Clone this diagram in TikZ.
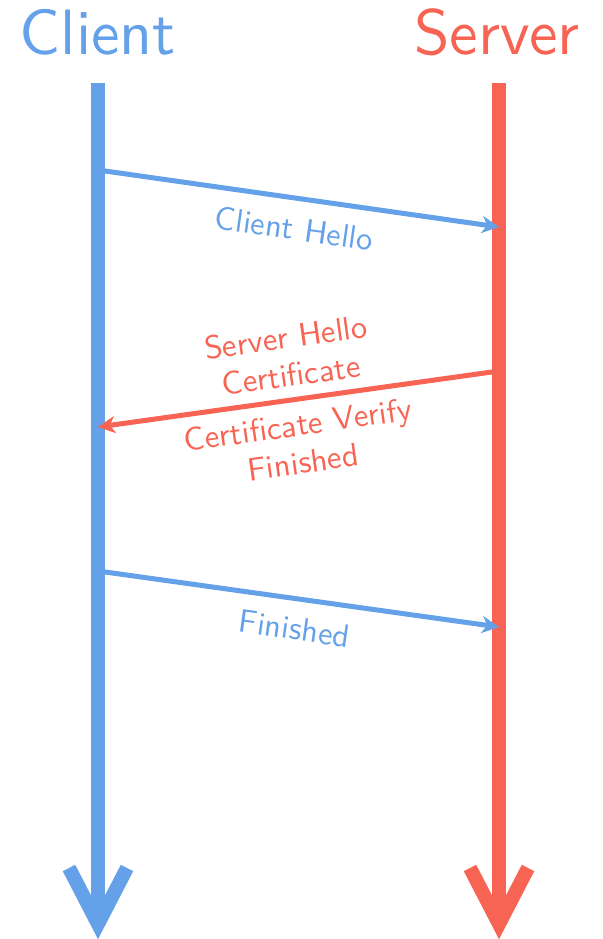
\documentclass[tikz,border=0pt]{standalone}
\usepackage{fontspec}
\usetikzlibrary{arrows.meta}
% the 10pt design of Latin Modern Sans, scaled freely
\newfontfamily\lmsten{lmsans10-regular.otf}
\definecolor{cblue}{RGB}{100,161,233}
\definecolor{sred}{RGB}{247,100,84}
\tikzset{
  lifeline/.style={line width=14pt, line cap=butt},
  barb/.style={line width=14pt, line join=miter, line cap=butt},
  msg/.style={line width=5pt, -{Stealth[length=17pt,width=17pt,inset=5pt]}},
  party/.style={font=\lmsten\fontsize{64}{64}\selectfont, anchor=base, inner sep=0pt},
  lbl/.style={font=\lmsten\fontsize{32.5}{38}\selectfont, sloped, align=center},
  lblbelow/.style={lbl, below, inner sep=16pt}
}
\begin{document}
\begin{tikzpicture}[x=1pt,y=-1pt]
\useasboundingbox (0,0) rectangle (602,939);

% party names
\node[party, text=cblue] (client) at (98,55) {Client};
\node[party, text=sred] (server) at (497,55) {Server};

% lifeline end points and barb corners
\coordinate (ctop) at (98,83);
\coordinate (cend) at (98,924);
\coordinate (cbl) at (69,868);
\coordinate (cbr) at (127,868);
\coordinate (stop) at (499,83);
\coordinate (send) at (499,924);
\coordinate (sbl) at (470,868);
\coordinate (sbr) at (528,868);

% lifelines
\draw[lifeline, cblue] (ctop) -- (cend);
\draw[barb, cblue] (cbl) -- (cend) -- (cbr);
\draw[lifeline, sred] (stop) -- (send);
\draw[barb, sred] (sbl) -- (send) -- (sbr);

% message anchors on the lifelines
\coordinate (c1) at (98,170);
\coordinate (s1) at (499,227);
\coordinate (s2) at (499,371);
\coordinate (c2) at (98,427);
\coordinate (c3) at (98,571);
\coordinate (s3) at (499,627);

% messages
\draw[msg, cblue] (c1) -- node[lblbelow, text=cblue] (m1) {Client Hello} (s1);
\draw[msg, sred] (s2) -- node[lbl, pos=0.51, text=sred] (m2) {Server Hello\\Certificate\\[12pt]Certificate Verify\\Finished} (c2);
\draw[msg, cblue] (c3) -- node[lblbelow, text=cblue] (m3) {Finished} (s3);
\end{tikzpicture}
\end{document}
